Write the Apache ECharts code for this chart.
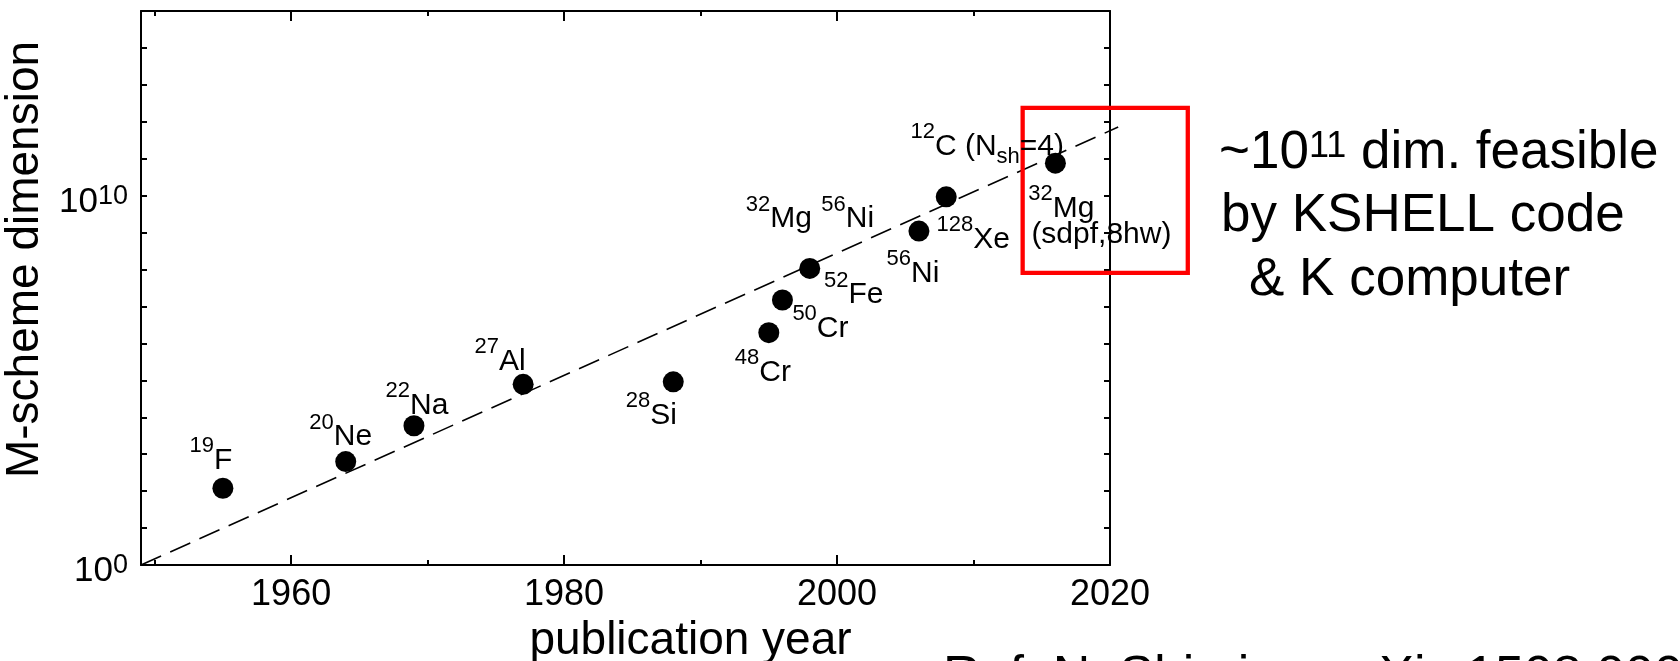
<!DOCTYPE html>
<html><head><meta charset="utf-8">
<script src="https://cdn.jsdelivr.net/npm/echarts@6/dist/echarts.min.js"></script>
<style>html,body{margin:0;padding:0;background:#fff}#c{width:1680px;height:661px}</style>
</head><body><div id="c"></div>
<script>
// ---- data ----
const years = [1955, 1964, 1969, 1977, 1988, 1995, 1996, 1998, 2006, 2008, 2016];
const dims  = [120, 630, 5900, 7.8e4, 9.1e4, 1.95e6, 1.5e7, 1.07e8, 1.1e9, 9.3e9, 7.6e10];
const trendYears = [1949, 2020.6];
const trendDims  = [1, 7.2e11];
const boxYears = [2013.6, 2025.7];
const boxDims  = [2.37e12, 8.1e7];
const majorTicks = [1960, 1980, 2000, 2020];
const minorTicks = [1950, 1970, 1990, 2010];
const yLabelExps = [0, 10];
// isotope labels: which point, mass number, symbol, subscript, tail
const labelPoint = [0, 1, 2, 3, 4, 5, 6, 7, 7, 7, 8, 9, 9, 10, 10];
const labelMass  = ['19','20','22','27','28','48','50','52','32','56','56','128','12','32',''];
const labelElem  = ['F','Ne','Na','Al','Si','Cr','Cr','Fe','Mg','Ni','Ni','Xe','C (N','Mg','(sdpf,8hw)'];
const labelSub   = ['','','','','','','','','','','','','sh','',''];
const labelTail  = ['','','','','','','','','','','','','=4)','',''];
const noteLines = ['~10', '11', ' dim. feasible', 'by KSHELL code', '& K computer'];
const refText = 'Ref: N. Shimizu, arXiv:1508.00000';
const xName = 'publication year';
const yName = 'M-scheme dimension';

// ---- layout / style ----
const X_MIN = 1949, X_MAX = 2020, X_OVER = 2030;          // overlay axis reaches past the frame
const GRID = {left: 141, top: 11, bottom: 96, width: 969};
const pxPerYear = GRID.width / (X_MAX - X_MIN);
const overWidth = pxPerYear * (X_OVER - X_MIN);

const labelOffsets = [[-12,-38],[-5,-35],[3,-31],[-23,-33],[-22,23],[-6,29],[38,18],[44,16],[-31,-60],[38,-60],[-6,32],[27,32],[41,-61],[6,35],[46,72]];
const FONT = '"Liberation Sans", Arial, sans-serif';
const K = '#000';

const rich = {
  m: {fontSize: 22, lineHeight: 22, verticalAlign: 'top', padding: [0,0,0,0], fontFamily: FONT, color: K},
  e: {fontSize: 30, lineHeight: 30, verticalAlign: 'top', padding: [10.6,0,0,0], fontFamily: FONT, color: K},
  b: {fontSize: 22, lineHeight: 22, verticalAlign: 'top', padding: [25.4,0,0,0], fontFamily: FONT, color: K},
  p: {fontSize: 30, lineHeight: 30, fontFamily: FONT, color: K}
};

function labelString(k) {
  if (!labelMass[k]) return '{p|' + labelElem[k] + '}';
  let s = '{m|' + labelMass[k] + '}{e|' + labelElem[k] + '}';
  if (labelSub[k]) s += '{b|' + labelSub[k] + '}';
  if (labelTail[k]) s += '{e|' + labelTail[k] + '}';
  return s;
}

const points = years.map((y, i) => [y, dims[i]]);
const labelData = labelPoint.map((p, k) => ({
  value: [years[p], dims[p]],
  label: {show: true, position: 'inside', offset: labelOffsets[k], formatter: labelString(k), rich: rich, color: K, opacity: 1}
}));
const trend = trendYears.map((y, i) => [y, trendDims[i]]);
const box = [[boxYears[0], boxDims[0]], [boxYears[1], boxDims[0]], [boxYears[1], boxDims[1]], [boxYears[0], boxDims[1]], [boxYears[0], boxDims[0]]];

const xBase = {type: 'value', min: X_MIN, max: X_MAX, gridIndex: 0, splitLine: {show: false}};
function xAx(pos, ticks, len, showLine, showLabel, extra) {
  return Object.assign({}, xBase, {
    position: pos,
    axisLine: {show: showLine, onZero: false, lineStyle: {color: K, width: 2}},
    axisTick: {show: true, inside: true, length: len, customValues: ticks, lineStyle: {color: K, width: 2}},
    axisLabel: showLabel ? {show: true, customValues: ticks, fontSize: 36, color: K, fontFamily: FONT, margin: 12,
      formatter: function (v) { return String(Math.round(v)); }} : {show: false}
  }, extra || {});
}
function yAx(pos, showLabel, extra) {
  return Object.assign({
    type: 'log', logBase: 10, min: 1, max: 1e15, interval: 1, splitNumber: 15, position: pos, gridIndex: 0,
    splitLine: {show: false},
    axisLine: {show: true, onZero: false, lineStyle: {color: K, width: 2}},
    axisTick: {show: true, inside: true, length: 6, lineStyle: {color: K, width: 2}},
    axisLabel: showLabel ? {
      show: true, margin: 13, fontFamily: FONT, color: K,
      formatter: function (v) {
        const e = Math.round(Math.log10(v));
        return yLabelExps.indexOf(e) >= 0 ? '{b|10}{s|' + e + '}' : '';
      },
      rich: {
        b: {fontSize: 35, lineHeight: 35, verticalAlign: 'top', padding: [6.6,0,0,0], fontFamily: FONT, color: K},
        s: {fontSize: 27, lineHeight: 27, verticalAlign: 'top', padding: [4.6,0,0,0], fontFamily: FONT, color: K}
      }
    } : {show: false}
  }, extra || {});
}

const option = {
  backgroundColor: '#fff',
  animation: false,
  grid: [
    {left: GRID.left, top: GRID.top, bottom: GRID.bottom, width: GRID.width, containLabel: false, outerBoundsMode: 'none'},
    {left: GRID.left, top: GRID.top, bottom: GRID.bottom, width: overWidth, containLabel: false, outerBoundsMode: 'none'}
  ],
  xAxis: [
    xAx('bottom', majorTicks, 10, true, true, {
      name: xName, nameLocation: 'middle', nameGap: 52,
      nameTextStyle: {fontSize: 46, color: K, fontFamily: FONT, padding: [0,0,0,130]}
    }),
    xAx('bottom', minorTicks, 5, false, false),
    xAx('top', majorTicks, 10, true, false),
    xAx('top', minorTicks, 5, false, false),
    {type: 'value', gridIndex: 1, min: X_MIN, max: X_OVER, show: false}
  ],
  yAxis: [
    yAx('left', true, {
      name: yName, nameLocation: 'middle', nameGap: 87,
      nameTextStyle: {fontSize: 46, color: K, fontFamily: FONT, padding: [0,0,0,57]}
    }),
    yAx('right', false),
    {type: 'log', logBase: 10, gridIndex: 1, min: 1, max: 1e15, show: false}
  ],
  series: [
    {type: 'line', xAxisIndex: 4, yAxisIndex: 2, data: trend, symbol: 'none', clip: false, silent: true, z: 1,
     lineStyle: {color: K, width: 1.6, type: [22, 10]}},
    {type: 'line', xAxisIndex: 4, yAxisIndex: 2, data: box, symbol: 'none', clip: false, silent: true, z: 3,
     lineStyle: {color: '#ff0000', width: 4.3, join: 'miter', cap: 'square'}},
    {type: 'scatter', data: points, symbol: 'circle', symbolSize: 21, clip: false, z: 2,
     itemStyle: {color: K, opacity: 1}},
    {type: 'scatter', data: labelData, symbol: 'circle', symbolSize: 1, clip: false, silent: true, z: 4,
     itemStyle: {color: 'rgba(0,0,0,0)', opacity: 1}}
  ],
  graphic: [
    {type: 'text', left: 1219, top: 127, z: 10, style: {
      text: '{a|' + noteLines[0] + '}{s|' + noteLines[1] + '}{a|' + noteLines[2] + '}',
      rich: {
        a: {fontSize: 53, lineHeight: 53, verticalAlign: 'top', fontFamily: FONT, fill: K},
        s: {fontSize: 36, lineHeight: 36, verticalAlign: 'top', padding: [2.3,0,0,0], fontFamily: FONT, fill: K}
      }}},
    {type: 'text', left: 1221, top: 190, z: 10, style: {text: noteLines[3], fontSize: 53, lineHeight: 53, fontFamily: FONT, fill: K}},
    {type: 'text', left: 1249, top: 253.5, z: 10, style: {text: noteLines[4], fontSize: 53, lineHeight: 53, fontFamily: FONT, fill: K}},
    {type: 'text', left: 943, top: 652, z: 10, style: {text: refText, fontSize: 52, lineHeight: 52, fontFamily: FONT, fill: K}}
  ]
};
const chart = echarts.init(document.getElementById('c'), null, {renderer: 'canvas', width: 1680, height: 661});
chart.setOption(option);
</script></body></html>
